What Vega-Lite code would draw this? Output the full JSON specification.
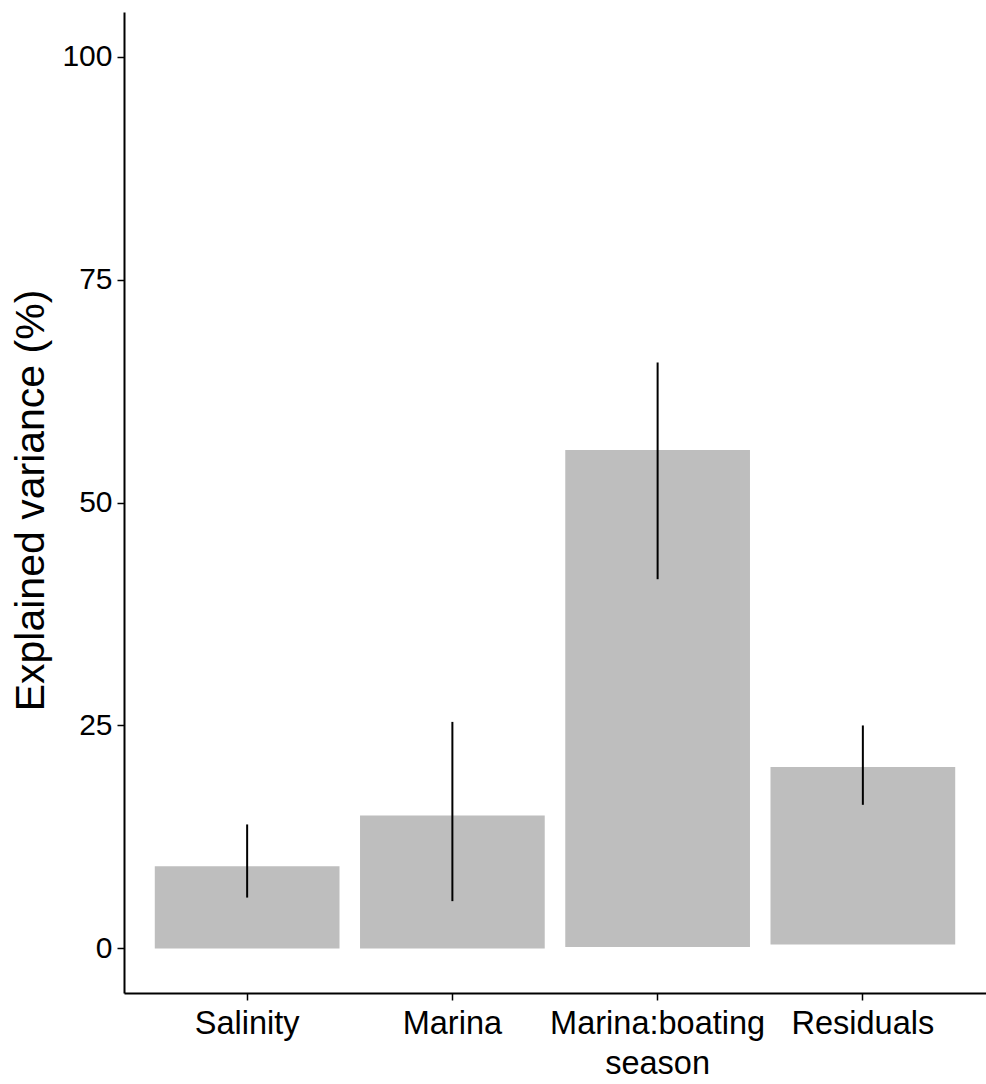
{
  "$schema": "https://vega.github.io/schema/vega-lite/v6.json",
  "width": 862,
  "height": 981,
  "autosize": {"type": "none"},
  "padding": {"left": 124, "top": 12, "right": 0, "bottom": 91},
  "background": "white",
  "config": {
    "font": "Liberation Sans",
    "view": {"stroke": null},
    "axis": {"grid": false, "domainColor": "black", "domainWidth": 2, "tickColor": "black", "tickWidth": 1.5, "tickSize": 7, "labelColor": "black", "titleColor": "black", "labelFont": "Liberation Sans", "titleFont": "Liberation Sans", "titleFontWeight": "normal"}
  },
  "data": {
    "values": [
      {"term": "Salinity", "base": 0, "value": 9.2, "lo": 5.7, "hi": 13.9},
      {"term": "Marina", "base": 0, "value": 14.9, "lo": 5.3, "hi": 25.4},
      {"term": "Marina:boating season", "base": 0.15, "value": 55.9, "lo": 41.4, "hi": 65.7},
      {"term": "Residuals", "base": 0.45, "value": 20.35, "lo": 16.1, "hi": 25.0}
    ]
  },
  "encoding": {
    "x": {
      "field": "term",
      "type": "nominal",
      "sort": null,
      "scale": {"paddingInner": 0.1, "paddingOuter": 0.15},
      "axis": {
        "title": null,
        "labelAngle": 0,
        "labelFontSize": 32.5,
        "labelPadding": 7,
        "labelLineHeight": 40,
        "labelLimit": 0,
        "labelOverlap": false,
        "labelExpr": "datum.value == 'Marina:boating season' ? ['Marina:boating', 'season'] : datum.value"
      }
    }
  },
  "layer": [
    {
      "mark": {"type": "bar", "color": "#BEBEBE"},
      "encoding": {
        "y": {
          "field": "value",
          "type": "quantitative",
          "scale": {"domain": [-5, 105], "nice": false, "zero": false},
          "axis": {
            "title": "Explained variance (%)",
            "values": [0, 25, 50, 75, 100],
            "labelFontSize": 30,
            "labelPadding": 5,
            "titleFontSize": 41,
            "titleAngle": -90,
            "titleX": -81,
            "titleY": 488,
            "titleAlign": "center",
            "titleBaseline": "alphabetic"
          }
        },
        "y2": {"field": "base"}
      }
    },
    {
      "mark": {"type": "rule", "color": "black", "strokeWidth": 2},
      "encoding": {
        "y": {"field": "lo", "type": "quantitative"},
        "y2": {"field": "hi"}
      }
    }
  ]
}
